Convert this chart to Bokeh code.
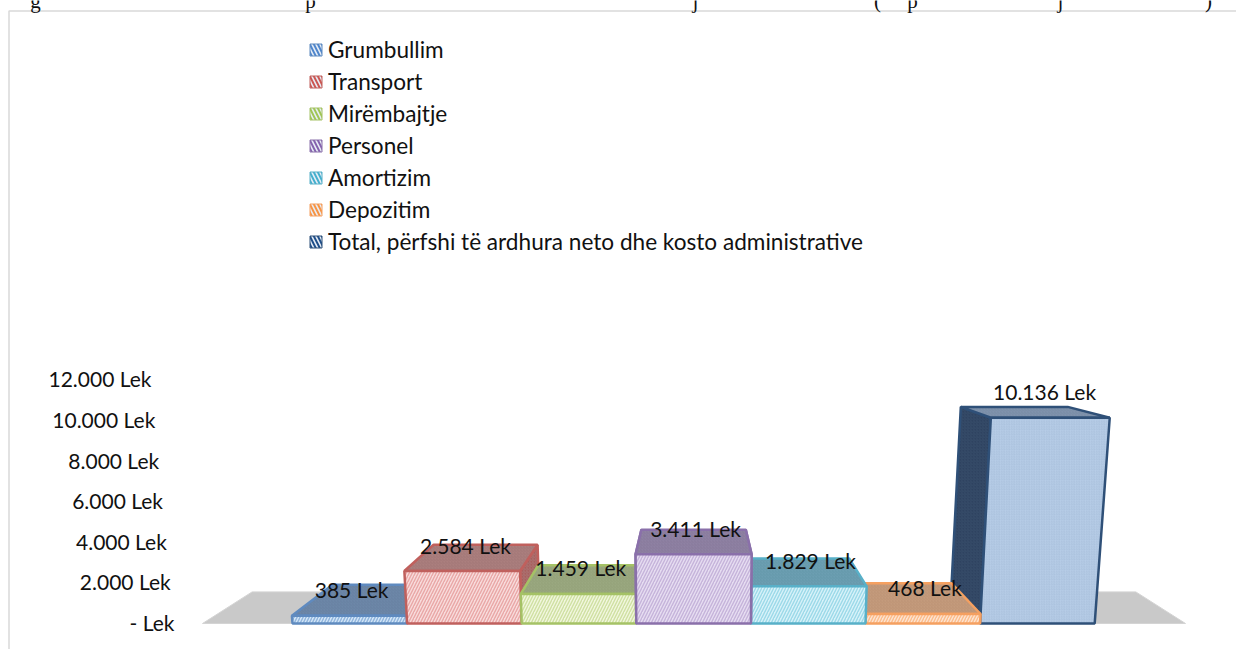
from bokeh.plotting import figure
from bokeh.models import Range1d, Legend, LegendItem
from bokeh.embed import file_html
from bokeh.resources import INLINE
from bokeh.core.properties import value

categories = ["Grumbullim", "Transport", "Mirëmbajtje", "Personel", "Amortizim", "Depozitim",
              "Total, përfshi të ardhura neto dhe kosto administrative"]
values = [385, 2584, 1459, 3411, 1829, 468, 10136]
value_labels = ["385 Lek", "2.584 Lek", "1.459 Lek", "3.411 Lek", "1.829 Lek", "468 Lek", "10.136 Lek"]
tick_values = [0, 2000, 4000, 6000, 8000, 10000, 12000]
tick_labels = ["- Lek", "2.000 Lek", "4.000 Lek", "6.000 Lek", "8.000 Lek", "10.000 Lek", "12.000 Lek"]
clipped_title_chars = ["g", "p", "j", "(", "p", "j", ")"]

edge = ["#5f8abf", "#c0605d", "#a5c266", "#8a70aa", "#58b0c8", "#f5a060", "#2f5078"]
front = ["#d3e6f8", "#f8dcdc", "#f1f7de", "#e6ddf1", "#d8f2f9", "#fde4d2", "#b7cde7"]
front_hatch = ["#8fb4dc", "#e9a7a6", "#cfe0a2", "#c5b3da", "#9bd9e8", "#fbbd8c", "#a6bdd9"]
top = ["#6d87a8", "#ab7f7e", "#9aa880", "#8f81a3", "#6c9fb2", "#c49b7c", "#7f93ad"]
top_hatch = ["#647d9d", "#a07473", "#909e76", "#857798", "#6295a8", "#ba9172", "#7789a3"]
side = ["#4c6a90", "#a85f5e", "#8a9a60", "#76628f", "#4f8ea3", "#c07f50", "#2e4360"]
side_hatch = ["#5a7699", "#ab7f7e", "#9aa880", "#8f81a3", "#6c9fb2", "#c49b7c", "#3a506e"]
legend_fill = ["#4f86cc", "#cc5753", "#a0c655", "#8563ae", "#45afce", "#f79443", "#1f4f8a"]

W, H = 1236, 649
PX_X, PX_Y = 114.6, 0.0203          # pixels per slot, pixels per Lek
X0_PX, Y0_PX = 292, 623             # screen position of slot 0 and of value 0


def data_x(px):
    return (px - X0_PX) / PX_X


def data_y(py):
    return (Y0_PX - py) / PX_Y


CX = 3.5
VP = data_y(310)
DEPTH = 0.101
LEAN = 0.0375 / 10136


def project(x, v, d):
    return (CX + (x - CX) * (1 + LEAN * v) * (1 - DEPTH * d), v + (VP - v) * DEPTH * d)


def poly(corners):
    pts = [project(*c) for c in corners]
    return [q[0] for q in pts], [q[1] for q in pts]


p = figure(width=W, height=H, output_backend="svg", toolbar_location=None, min_border=0,
           margin=0,
           x_range=Range1d(data_x(0), data_x(W)), y_range=Range1d(data_y(H), data_y(0)))
p.axis.visible = False
p.grid.visible = False
p.outline_line_color = None
p.background_fill_color = "white"
p.border_fill_color = "white"

# frame of the pasted chart
p.line([data_x(8.5), data_x(8.5), data_x(W)], [data_y(H), data_y(10.5), data_y(10.5)],
       line_color="#d9d9d9", line_width=1.5)

# clipped line of text above the frame
title_px = [35, 310, 695, 877, 912, 1060, 1208]
p.text([data_x(t) for t in title_px], [data_y(0)] * len(title_px), text=clipped_title_chars,
       text_font=value("Liberation Serif"), text_font_size="21px", text_color="#111111",
       text_align="center", text_baseline="alphabetic")

# floor
fx0, fx1 = data_x(202), data_x(1185)
xs, ys = poly([(fx0, 0, 0), (fx1, 0, 0), (fx1, 0, 1), (fx0, 0, 1)])
p.patch(xs, ys, fill_color="#c9c9c9", line_color="#d4d4d4", line_width=1)


def face(corners, fill, hatch, line, scale=4.0, weight=1.0, lw=2.5):
    xs, ys = poly(corners)
    p.patch(xs, ys, fill_color=fill, hatch_pattern="right_diagonal_line", hatch_color=hatch,
            hatch_scale=scale, hatch_weight=weight, line_color=line, line_width=lw)


for i in [0, 1, 2, 6, 5, 4, 3]:
    v = values[i]
    a, b = i, i + 1
    if a >= CX:
        face([(a, 0, 0), (a, v, 0), (a, v, 1), (a, 0, 1)], side[i], side_hatch[i], edge[i], 3, 0.6)
    if b <= CX or i == 3:
        face([(b, 0, 0), (b, v, 0), (b, v, 1), (b, 0, 1)], side[i], side_hatch[i], edge[i], 3, 0.6)
    if i == 3:
        face([(a, 0, 0), (a, v, 0), (a, v, 1), (a, 0, 1)], side[i], side_hatch[i], edge[i], 3, 0.6)
    face([(a, v, 0), (b, v, 0), (b, v, 1), (a, v, 1)], top[i], top_hatch[i], edge[i], 3, 0.6)
    face([(a, 0, 0), (b, 0, 0), (b, v, 0), (a, v, 0)], front[i], front_hatch[i], edge[i],
         6 if i != 6 else 2.5, 1.4 if i != 6 else 0.6)

# value labels
label_x = [CX + (i + 0.5 - CX) * (1 + LEAN * v / 2.5) + 2 / PX_X for i, v in enumerate(values)]
p.text(label_x, values, text=value_labels, y_offset=-26, text_font=value("Lato"), text_font_size="21px",
       text_color="#111111", text_align="center", text_baseline="middle")

# tick labels follow the slanted edge of the wall
axis_x = data_x(174)
tick_x = [project(axis_x, t, 0)[0] for t in tick_values]
p.text(tick_x, tick_values, text=tick_labels, y_offset=-1, text_font=value("Lato"), text_font_size="21px",
       text_color="#111111", text_align="right", text_baseline="middle")

# legend
items = []
for name, fill, ln in zip(categories, legend_fill, edge):
    r = p.quad(left=[float("nan")], right=[float("nan")], top=[float("nan")], bottom=[float("nan")],
               fill_color=fill, line_color=ln,
               hatch_pattern="left_diagonal_line", hatch_color="#e8eef6", hatch_scale=8, hatch_weight=1.6)
    items.append(LegendItem(label=value(name), renderers=[r]))
legend = Legend(items=items, location=(308, H - 255), orientation="vertical", background_fill_alpha=0,
                border_line_alpha=0, glyph_width=15, glyph_height=15, label_standoff=5, spacing=5,
                margin=0, padding=0, label_text_font="Lato", label_text_font_size="22.6px",
                label_text_color="#111111", label_height=15)
p.add_layout(legend, "center")

open("out.html", "w").write(file_html(p, INLINE))
